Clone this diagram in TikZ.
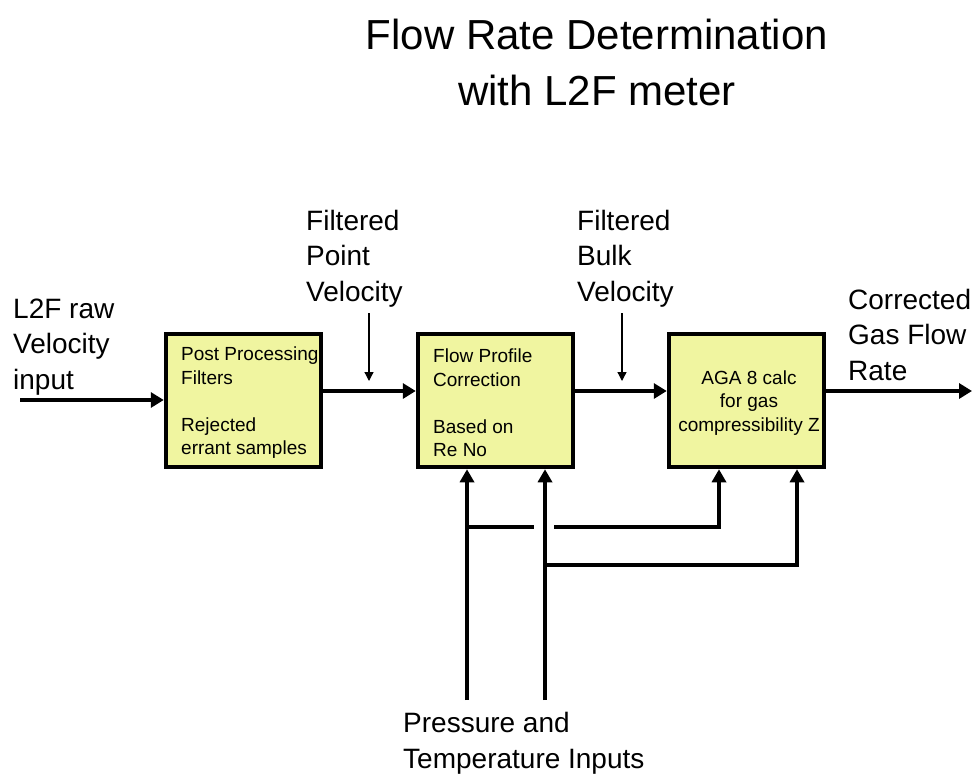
\documentclass[tikz,border=0pt]{standalone}
\usepackage{fontspec}
\setmainfont{Liberation Sans}
\usetikzlibrary{arrows.meta}
\definecolor{boxfill}{RGB}{240,245,160}
\begin{document}
\begin{tikzpicture}[x=1pt,y=-1pt,
  blockbox/.style={draw=black, line width=4.5pt, fill=boxfill, minimum width=155pt, minimum height=133pt, inner sep=0pt},
  boxtext/.style={font=\fontsize{19}{23.5}\selectfont, inner sep=0pt, align=left},
  labeltext/.style={font=\fontsize{28}{35.5}\selectfont, inner sep=0pt, align=left, anchor=base west},
  flow/.style={line width=4pt, -{Triangle[length=13pt,width=15pt]}},
  feed/.style={line width=3.5pt},
  feedarrow/.style={line width=3.5pt, -{Triangle[length=13pt,width=14pt]}},
  hint/.style={line width=1.3pt, -{Triangle[length=9pt,width=9pt]}}
]
\path[use as bounding box] (0,0) rectangle (977,776);

% title (anchored on the baseline of its last line)
\node[font=\fontsize{42}{55}\selectfont, align=center, anchor=base] (title) at (597,105)
  {Flow Rate Determination\\with L2F meter};

% processing blocks
\node[blockbox] (b1) at (243.5,400.5) {};
\node[blockbox] (b2) at (495.5,400.5) {};
\node[blockbox] (b3) at (746.5,400.5) {};

\node[boxtext, anchor=west] (t1) at (181,403) {Post Processing\\Filters\\[23.5pt]Rejected\\errant samples};
\node[boxtext, anchor=west] (t2) at (433,403) {Flow Profile\\Correction\\[23.5pt]Based on\\Re No};
\node[boxtext, align=center] (t3) at (749,403) {AGA 8 calc\\for gas\\compressibility Z};

% labels (anchored on the baseline of their last line)
\node[labeltext] (lin) at (13,389) {L2F raw\\Velocity\\input};
\node[labeltext] (lpt) at (306,301) {Filtered\\Point\\Velocity};
\node[labeltext] (lbk) at (577,301) {Filtered\\Bulk\\Velocity};
\node[labeltext] (lout) at (848,380) {Corrected\\Gas Flow\\Rate};
\node[labeltext] (lpt2) at (403,768) {Pressure and\\Temperature Inputs};

% main flow
\coordinate (in) at (20,400);
\coordinate (out) at (972,391);
\draw[flow] (in) -- (b1.west |- in);
\draw[flow] (b1.east |- 0,391) -- (b2.west |- 0,391);
\draw[flow] (b2.east |- 0,391) -- (b3.west |- 0,391);
\draw[flow] (b3.east |- out) -- (out);

% annotation arrows
\coordinate (h1s) at (369,313);
\coordinate (h1e) at (369,381);
\coordinate (h2s) at (622,313);
\coordinate (h2e) at (622,381);
\draw[hint] (h1s) -- (h1e);
\draw[hint] (h2s) -- (h2e);

% pressure and temperature feeds
\coordinate (p) at (467,700);
\coordinate (q) at (545,700);
\draw[feedarrow] (p) -- (p |- b2.south);
\draw[feedarrow] (q) -- (q |- b2.south);
\coordinate (pj) at (467,527);
\coordinate (gapa) at (534,527);
\coordinate (gapb) at (554,527);
\coordinate (pc) at (719,527);
\draw[feed] (pj) -- (gapa);
\draw[feedarrow] (gapb) -- (pc) -- (pc |- b3.south);
\coordinate (qj) at (545,565);
\coordinate (qc) at (797,565);
\draw[feedarrow] (qj) -- (qc) -- (qc |- b3.south);
\end{tikzpicture}
\end{document}
